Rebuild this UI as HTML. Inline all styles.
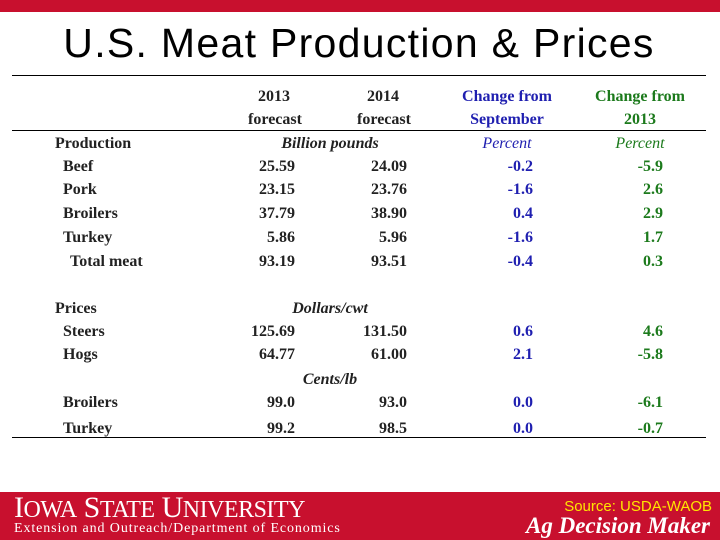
<!DOCTYPE html>
<html><head><meta charset="utf-8"><style>
body{margin:0;width:720px;height:540px;position:relative;background:#fff;overflow:hidden;font-family:"Liberation Serif",serif}
.t{position:absolute;font-weight:bold;font-size:16px;line-height:18px;white-space:nowrap;color:#222}
.r{text-align:right}.c{text-align:center}
.b{color:#1f1fb0}.g{color:#1c7a1c}
.i{font-style:italic}
.n{font-weight:normal}
.line{position:absolute;background:#000;height:1px}
</style></head><body>
<div style="position:absolute;left:0;top:0;width:720px;height:12px;background:#c8102e"></div>
<div style="position:absolute;left:0;top:19px;width:718px;text-align:center;font-family:'Liberation Sans',sans-serif;font-size:41px;line-height:48px;letter-spacing:1.3px;color:#000">U.S. Meat Production &amp; Prices</div>
<div class="line" style="left:12px;top:75px;width:694px"></div>
<div class="line" style="left:12px;top:130px;width:694px"></div>
<div class="line" style="left:12px;top:437px;width:694px"></div>
<div id="tbl"></div>
<div style="position:absolute;left:0;top:492px;width:720px;height:48px;background:#c8102e">
 <div style="position:absolute;left:14px;top:-1px;color:#fff;font-size:30px;font-family:'Liberation Serif',serif;letter-spacing:-0.5px">I<span style="font-size:24px">OWA</span> S<span style="font-size:24px">TATE</span> U<span style="font-size:24px">NIVERSITY</span></div>
 <div style="position:absolute;left:14px;top:29px;color:#fff;font-size:14px;letter-spacing:0.9px">Extension and Outreach/Department of Economics</div>
 <div style="position:absolute;right:8px;top:6px;color:#ffe600;font-family:'Liberation Sans',sans-serif;font-size:15px">Source: USDA-WAOB</div>
 <div style="position:absolute;right:10px;top:21px;color:#fff;font-size:23px;font-weight:bold;font-style:italic">Ag Decision Maker</div>
</div>
<script>
const rowLabels=["Beef","Pork","Broilers","Turkey","Total meat"];
const prod2013=["25.59","23.15","37.79","5.86","93.19"];
const prod2014=["24.09","23.76","38.90","5.96","93.51"];
const prodSep=["-0.2","-1.6","0.4","-1.6","-0.4"];
const prodYr=["-5.9","2.6","2.9","1.7","0.3"];
const priceLabels=["Steers","Hogs","Broilers","Turkey"];
const price2013=["125.69","64.77","99.0","99.2"];
const price2014=["131.50","61.00","93.0","98.5"];
const priceSep=["0.6","2.1","0.0","0.0"];
const priceYr=["4.6","-5.8","-6.1","-0.7"];
const tbl=document.getElementById('tbl');
function add(txt,cls,x,y,w,name){
 const d=document.createElement('div');
 d.className='t '+cls;d.textContent=txt;
 d.style.top=(y-9)+'px';
 if(cls.includes('r')){d.style.left=(x-w)+'px';d.style.width=w+'px';}
 else if(cls.includes('c')){d.style.left=(x-w/2)+'px';d.style.width=w+'px';}
 else d.style.left=x+'px';
 
 
 tbl.appendChild(d);
}
add("2013","c",274,97,100,"header-2013");add("forecast","c",275,120,100,"header-2013-forecast");
add("2014","c",383,97,100,"header-2014");add("forecast","c",384,120,100,"header-2014-forecast");
add("Change from","c b",507,97,140,"header-change-sep");add("September","c b",507,120,140,"header-september");
add("Change from","c g",640,97,140,"header-change-2013");add("2013","c g",640,120,140,"header-2013-green");
add("Production","",55,144,0,"production-label");
add("Billion pounds","c i",330,144,160,"unit-billion-pounds");
add("Percent","c i n b",507,144,100,"unit-percent-blue");
add("Percent","c i n g",640,144,100,"unit-percent-green");
const prodY=[167,190,214,238,262];
rowLabels.forEach((l,k)=>{
 const y=prodY[k];
 add(l,"",k===4?70:63,y,0,"row-label");
 add(prod2013[k],"r",295,y,90,"value-2013");
 add(prod2014[k],"r",407,y,90,"value-2014");
 add(prodSep[k],"r b",533,y,90,"value-change-sep");
 add(prodYr[k],"r g",663,y,90,"value-change-2013");
});
add("Prices","",55,309,0,"prices-label");
add("Dollars/cwt","c i",330,309,160,"unit-dollars-cwt");
add("Cents/lb","c i",330,380,160,"unit-cents-lb");
const priceY=[332,355,403,429];
priceLabels.forEach((l,k)=>{
 const y=priceY[k];
 add(l,"",63,y,0,"row-label");
 add(price2013[k],"r",295,y,90,"value-2013");
 add(price2014[k],"r",407,y,90,"value-2014");
 add(priceSep[k],"r b",533,y,90,"value-change-sep");
 add(priceYr[k],"r g",663,y,90,"value-change-2013");
});
</script>
</body></html>
